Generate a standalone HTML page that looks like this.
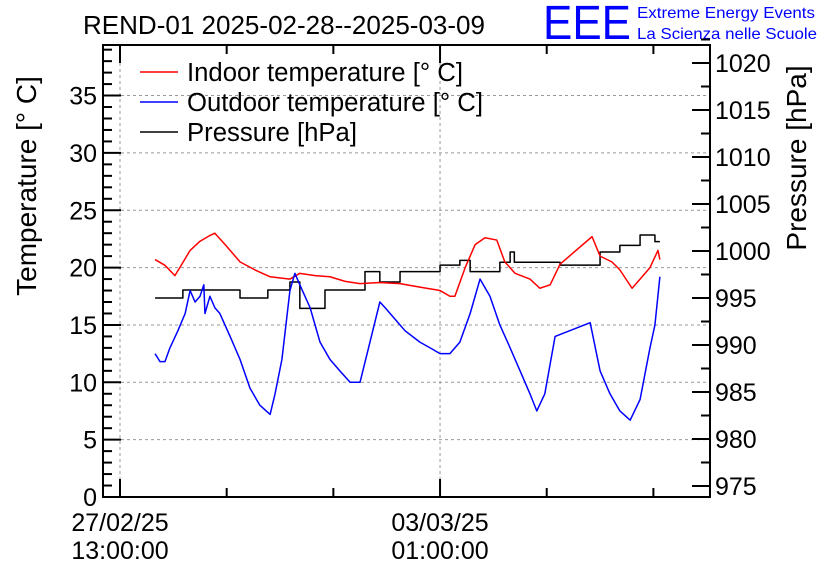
<!DOCTYPE html>
<html><head><meta charset="utf-8"><style>
body{margin:0;background:#fff}
svg{display:block;font-family:"Liberation Sans",sans-serif}
</style></head><body>
<svg id="c" width="836" height="572">
<text x="83" y="34" font-size="25.5" textLength="402" lengthAdjust="spacingAndGlyphs">REND-01 2025-02-28--2025-03-09</text>
<text x="543" y="39" font-size="48" fill="#0000ff" textLength="88" lengthAdjust="spacingAndGlyphs">EEE</text>
<text x="637" y="18" font-size="16" fill="#0000ff" textLength="178" lengthAdjust="spacingAndGlyphs">Extreme Energy Events</text>
<text x="637" y="39" font-size="16" fill="#0000ff" textLength="180" lengthAdjust="spacingAndGlyphs">La Scienza nelle Scuole</text>
<text transform="translate(36,186) rotate(-90)" text-anchor="middle" font-size="28">Temperature [° C]</text>
<text transform="translate(806,158) rotate(-90)" text-anchor="middle" font-size="28">Pressure [hPa]</text>
<g id="grid"></g><g id="series"></g><g id="axes"></g>
<g>
<line x1="140" y1="72" x2="178" y2="72" stroke="#ff0000" stroke-width="1.5"/>
<text x="187" y="81" font-size="25.5" textLength="276" lengthAdjust="spacingAndGlyphs">Indoor temperature [° C]</text>
<line x1="140" y1="102" x2="178" y2="102" stroke="#0000ff" stroke-width="1.5"/>
<text x="187" y="111" font-size="25.5" textLength="296" lengthAdjust="spacingAndGlyphs">Outdoor temperature [° C]</text>
<line x1="140" y1="132" x2="178" y2="132" stroke="#000" stroke-width="1.5"/>
<text x="187" y="141" font-size="25.5" textLength="170" lengthAdjust="spacingAndGlyphs">Pressure [hPa]</text>
</g>
</svg>
<script>
const outT=[9.2,10.5,11.8,13.1,15.2,17.1,18.4,19.7,21,22,22.3,23.6,24.9,26.2,28.9,31.5,34.1,36.7,39.4,40.7,42.5,44.6,45.9,47.2,49.9,52.5,55.1,57.7,60.4,63,65.6,68.2,69.6,72.2,74.8,78.7,81.4,84,86.6,89.2,91.9,94.5,97.1,99.7,102.4,105,107.6,109.4,111.5,114.2,123.4,126,128.6,131.2,133.9,136.5,139.1,140.4,141.7];
const outV=[12.5,11.8,11.8,13,14.5,16,18,17,17.5,18.5,16,17.5,16.5,16,14,12,9.5,8,7.2,9,12,18,19.5,18.5,16.5,13.5,12,11,10,10,13.5,17,16.5,15.5,14.5,13.5,13,12.5,12.5,13.5,16,19,17.5,15,13,11,9,7.5,9,14,15.2,11,9,7.5,6.7,8.5,13,15,19.2];
const inT=[9.2,11.8,14.4,15.7,18.4,21,23.6,24.9,27.6,31.5,35.4,39.4,44.6,47.2,51.2,55.1,59.1,63,68.2,73.5,78.7,84,86.6,87.9,90.6,93.2,95.8,98.9,101,103.7,107.6,110.2,112.9,115.5,123.9,126,129.1,131.2,134.4,136.5,139.1,141.2,141.7];
const inV=[20.7,20.2,19.3,20,21.5,22.3,22.8,23,22,20.5,19.8,19.2,19,19.5,19.3,19.2,18.8,18.6,18.7,18.6,18.3,18,17.5,17.5,20,22,22.6,22.4,20.5,19.5,19,18.2,18.5,20.3,22.7,21,20.5,19.8,18.2,19,20,21.5,20.7];
const prT=[9.2,16.5,28.3,31.5,38.8,44.6,47.2,53.8,64.3,68.2,73.5,84,89.2,91.9,99.7,102.4,103.5,115.5,126,131.2,136.5,140.4,141.7];
const prV=[995.0,995.85,995.85,995.0,995.85,996.7,993.9,995.85,997.8,996.7,997.8,998.5,999,997.8,998.8,999.9,998.8,998.5,999.9,1000.6,1001.7,1001.0,1001.0];
const tempTicks=[0,5,10,15,20,25,30,35];
const presTicks=[975,980,985,990,995,1000,1005,1010,1015,1020];
const xLabels=[["27/02/25","13:00:00",0],["03/03/25","01:00:00",84]];
const L=103,R=710,T=45,B=497;
const xS=h=>120+h*3.81;
const yT=v=>497-v*11.47;
const yP=p=>63+(1020-p)*9.4;
const NS="http://www.w3.org/2000/svg";
function mk(parent,tag,attrs){const e=document.createElementNS(NS,tag);for(const k in attrs)e.setAttribute(k,attrs[k]);document.getElementById(parent).appendChild(e);return e;}
for(const v of tempTicks){if(v===0)continue;const g=mk('grid','line',{x1:L,x2:R,y1:yT(v),y2:yT(v),stroke:'#999','stroke-dasharray':'3,3','stroke-width':1});

}
for(const xl of xLabels){const g=mk('grid','line',{x1:xS(xl[2]),x2:xS(xl[2]),y1:T,y2:B,stroke:'#999','stroke-dasharray':'3,3','stroke-width':1});

}
function poly(ts,vs,ys,col,name,step){let pts=[];for(let i=0;i<ts.length;i++){const x=xS(ts[i]),y=ys(vs[i]);if(step&&i>0)pts.push(x+','+ys(vs[i-1]));pts.push(x+','+y);}
const p=mk('series','polyline',{points:pts.join(' '),fill:'none',stroke:col,'stroke-width':1.5,'stroke-linejoin':'round'});

}
poly(prT,prV,yP,'#000','pressure-line',true);
poly(inT,inV,yT,'#ff0000','indoor-temperature-line',false);
poly(outT,outV,yT,'#0000ff','outdoor-temperature-line',false);
const fr=mk('axes','rect',{x:L,y:T,width:R-L,height:B-T,fill:'none',stroke:'#000','stroke-width':2});


for(let v=0;v<=39;v++){const maj=v%5===0;mk('axes','line',{x1:L,x2:L+(maj?18:9),y1:yT(v),y2:yT(v),stroke:'#000','stroke-width':2});}
for(const v of tempTicks){const t=mk('axes','text',{x:97,y:yT(v)+9,'text-anchor':'end','font-size':25});t.textContent=v;

}
for(let p=975;p<=1022.5;p+=2.5){const maj=p%5===0;mk('axes','line',{x1:R,x2:R-(maj?18:9),y1:yP(p),y2:yP(p),stroke:'#000','stroke-width':2});}
for(const p of presTicks){const t=mk('axes','text',{x:715,y:yP(p)+9,'font-size':25});t.textContent=p;

}
for(let h=0;h<=150;h+=28){const x=xS(h);if(x>R)break;const maj=h%84===0;
mk('axes','line',{x1:x,x2:x,y1:B,y2:B-(maj?18:9),stroke:'#000','stroke-width':2});
mk('axes','line',{x1:x,x2:x,y1:T,y2:T+(maj?18:9),stroke:'#000','stroke-width':2});}
for(const xl of xLabels){for(let j=0;j<2;j++){const t=mk('axes','text',{x:xS(xl[2]),y:531+j*28,'text-anchor':'middle','font-size':25});t.textContent=xl[j];

}}
</script>
</body></html>
